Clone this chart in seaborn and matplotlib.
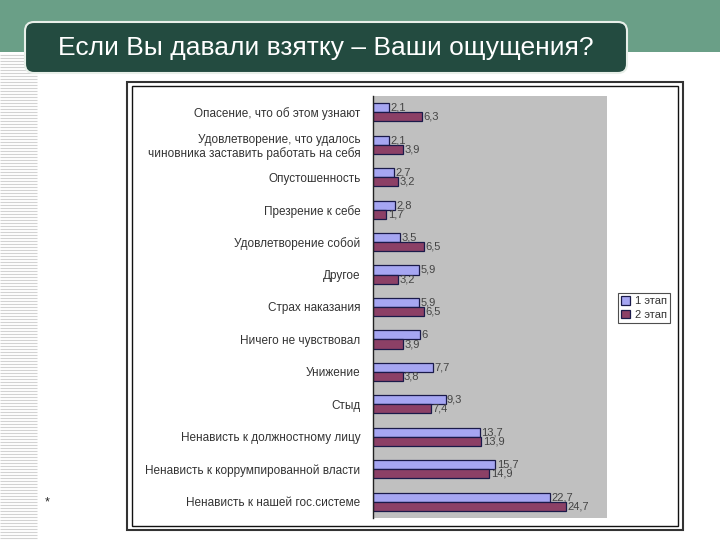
import pandas as pd
import matplotlib
matplotlib.use("Agg")
import matplotlib.pyplot as plt
import seaborn as sns
from matplotlib.patches import Rectangle, FancyBboxPatch
from matplotlib.collections import LineCollection
from matplotlib.transforms import IdentityTransform

TITLE = "Если Вы давали взятку – Ваши ощущения?"
SERIES = ["1 этап", "2 этап"]
CATEGORIES = [
    "Опасение, что об этом узнают",
    "Удовлетворение, что удалось\nчиновника заставить работать на себя",
    "Опустошенность",
    "Презрение к себе",
    "Удовлетворение собой",
    "Другое",
    "Страх наказания",
    "Ничего не чувствовал",
    "Унижение",
    "Стыд",
    "Ненависть к должностному лицу",
    "Ненависть к коррумпированной власти",
    "Ненависть к нашей гос.системе",
]
STAGE_1 = [2.1, 2.1, 2.7, 2.8, 3.5, 5.9, 5.9, 6, 7.7, 9.3, 13.7, 15.7, 22.7]
STAGE_2 = [6.3, 3.9, 3.2, 1.7, 6.5, 3.2, 6.5, 3.9, 3.8, 7.4, 13.9, 14.9, 24.7]

COLORS = ["#9999ff", "#993366"]
W, H = 720, 540


def fmt(v):
    return f"{v:g}".replace(".", ",")


def px(x0, y0, x1, y1):
    # pixel box (top-left origin) -> display coords
    return x0, H - y1, x1 - x0, y1 - y0


def draw_slide(fig):
    # green band on top
    x, y, w, h = px(0, 0, W, 52)
    fig.add_artist(Rectangle((x, y), w, h, transform=IdentityTransform(),
                             facecolor="#6a9f87", edgecolor="none", zorder=0))
    # hatched stripe on the left
    segs = [[(0, H - yy - 0.5), (37, H - yy - 0.5)] for yy in range(54, H, 3)]
    fig.add_artist(LineCollection(segs, colors="#d2d2d2", linewidths=0.8,
                                  transform=IdentityTransform(), zorder=0))
    # title box
    x, y, w, h = px(25, 22, 627, 73)
    fig.add_artist(FancyBboxPatch((x, y), w, h,
                                  boxstyle="round,pad=0,rounding_size=9",
                                  transform=IdentityTransform(),
                                  facecolor="#234b40", edgecolor="#e8efe9",
                                  linewidth=1.5, zorder=1))
    fig.text(326 / W, 1 - 48 / H, TITLE, color="white", fontsize=19,
             ha="center", va="center", zorder=2)
    # chart frame (double line)
    x, y, w, h = px(127, 82, 683, 530)
    fig.add_artist(Rectangle((x, y), w, h, transform=IdentityTransform(),
                             facecolor="white", edgecolor="#333333",
                             linewidth=1.5, zorder=0.5))
    x, y, w, h = px(132, 86, 678, 526)
    fig.add_artist(Rectangle((x, y), w, h, transform=IdentityTransform(),
                             facecolor="none", edgecolor="#111111",
                             linewidth=1, zorder=0.6))
    fig.text(47 / W, 1 - 502 / H, "*", fontsize=9, ha="center", va="center")


def main():
    sns.set_style("white")
    plt.rcParams["font.family"] = ["Liberation Sans", "DejaVu Sans"]

    df = pd.DataFrame({
        "category": CATEGORIES * 2,
        "value": STAGE_1 + STAGE_2,
        "series": [SERIES[0]] * len(CATEGORIES) + [SERIES[1]] * len(CATEGORIES),
    })

    fig = plt.figure(figsize=(W / 100, H / 100), dpi=100)
    draw_slide(fig)

    ax = fig.add_axes([373 / W, 1 - 518 / H, 234 / W, 422 / H], zorder=3)
    ax.set_facecolor("#c0c0c0")
    sns.barplot(data=df, x="value", y="category", hue="series",
                hue_order=SERIES, order=CATEGORIES, orient="h",
                palette=COLORS, width=0.56, edgecolor="#1a1a4a",
                linewidth=0.9, ax=ax)

    for cont, vals in zip(ax.containers, [STAGE_1, STAGE_2]):
        ax.bar_label(cont, labels=[fmt(v) for v in vals], padding=1,
                     fontsize=8, color="#444444")

    ax.set_xlim(0, 30)
    ax.set_ylim(len(CATEGORIES) - 0.5, -0.5)
    ax.set_xlabel("")
    ax.set_ylabel("")
    ax.set_xticks([])
    ax.set_yticks(range(len(CATEGORIES)))
    ax.set_yticklabels(CATEGORIES, fontsize=8.5, color="#333333",
                       linespacing=1.1)
    ax.set_yticks([i - 0.5 for i in range(len(CATEGORIES) + 1)], minor=True)
    ax.tick_params(axis="y", which="major", length=0, pad=9)
    ax.tick_params(axis="y", which="minor", length=5, width=1,
                   color="#222222", direction="out")
    for side in ["top", "right", "bottom"]:
        ax.spines[side].set_visible(False)
    ax.spines["left"].set_color("#222222")
    ax.spines["left"].set_linewidth(1)

    handles, labels = ax.get_legend_handles_labels()
    leg = ax.legend(handles, labels, loc="center",
                    bbox_to_anchor=(644 / W, 1 - 308 / H),
                    bbox_transform=fig.transFigure, fontsize=8,
                    frameon=True, fancybox=False, handlelength=0.8,
                    handleheight=0.8, handletextpad=0.4, borderpad=0.3,
                    labelspacing=0.3, borderaxespad=0)
    leg.get_frame().set_edgecolor("#222222")
    leg.get_frame().set_linewidth(0.8)
    for t in leg.get_texts():
        t.set_color("#333333")

    fig.savefig("out.png", dpi=100)
    plt.close(fig)


if __name__ == "__main__":
    main()
